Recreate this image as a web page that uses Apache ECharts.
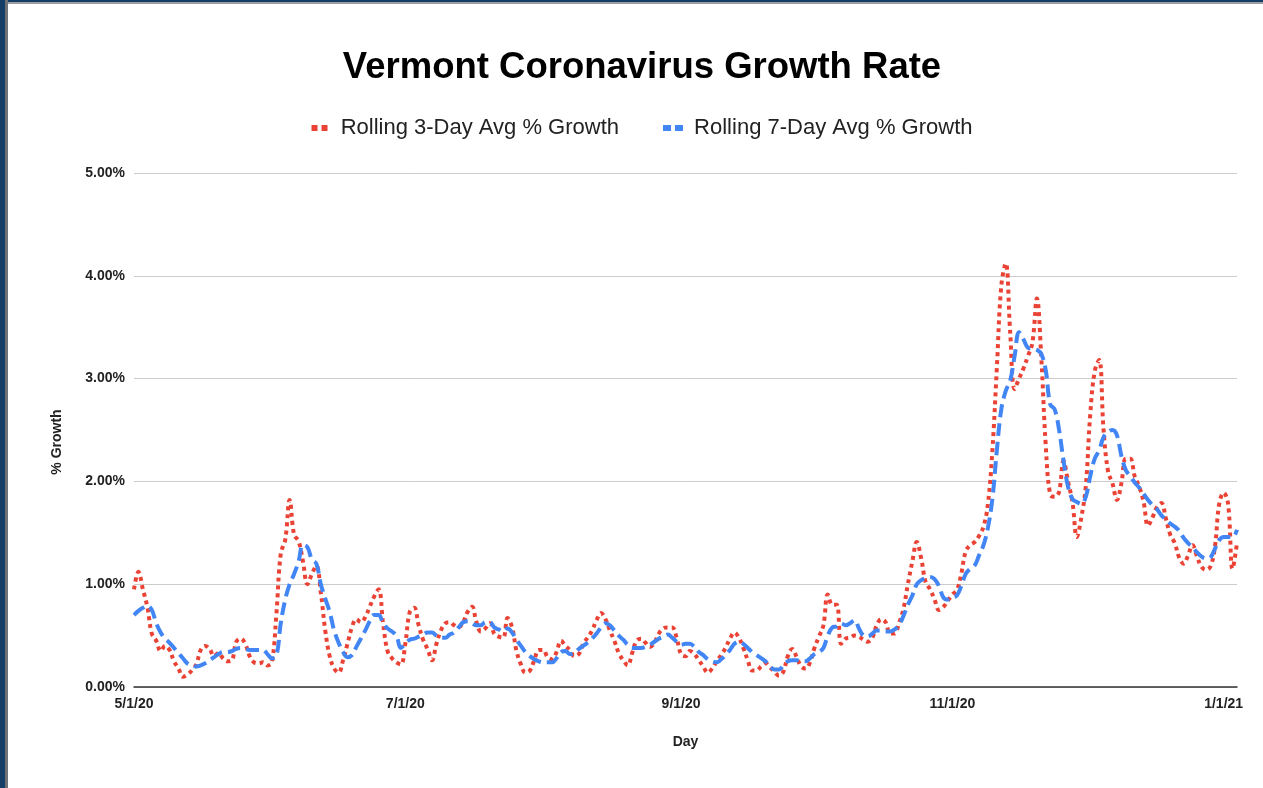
<!DOCTYPE html>
<html>
<head>
<meta charset="utf-8">
<script src="https://cdn.jsdelivr.net/npm/echarts@6/dist/echarts.min.js"></script>
<style>
  html, body { margin: 0; padding: 0; width: 1263px; height: 788px; overflow: hidden; background: #fff; }
  #chart { position: absolute; left: 0; top: 0; width: 1284px; height: 788px; }
  #bl { position: absolute; left: 0; top: 0; width: 5px; height: 788px; background: #143e66; }
  #bl2 { position: absolute; left: 5px; top: 0; width: 3px; height: 788px; background: #6f7378; }
  #bt { position: absolute; left: 0; top: 0; width: 1263px; height: 2px; background: #143e66; }
  #bt2 { position: absolute; left: 5px; top: 2px; width: 1258px; height: 2px; background: #9a9da1; }
</style>
</head>
<body>
<div id="chart"></div>
<div id="bt"></div><div id="bt2"></div><div id="bl"></div><div id="bl2"></div>
<script>
// Data: daily values from 5/1/20 to 1/4/21 (percent)
const startDate = [2020, 4, 1]; // year, monthIndex, day
const tickLabels = ['5/1/20', '7/1/20', '9/1/20', '11/1/20', '1/1/21'];
const seriesNames = ['Rolling 3-Day Avg % Growth', 'Rolling 7-Day Avg % Growth'];

const rolling3 = [
 0.95,1.12,0.95,0.78,0.52,0.45,0.35,0.40,0.36,0.25,
 0.18,0.10,0.12,0.16,0.22,0.36,0.40,0.37,0.30,0.33,
 0.28,0.25,0.26,0.44,0.47,0.42,0.30,0.24,0.23,0.24,
 0.21,0.24,0.70,1.30,1.43,1.82,1.48,1.42,1.22,1.00,
 1.10,1.18,0.92,0.55,0.30,0.18,0.14,0.26,0.42,0.58,
 0.66,0.63,0.68,0.78,0.88,0.95,0.62,0.35,0.28,0.24,
 0.22,0.42,0.73,0.77,0.60,0.46,0.37,0.26,0.42,0.55,
 0.62,0.63,0.60,0.58,0.63,0.73,0.78,0.63,0.54,0.57,
 0.62,0.52,0.49,0.48,0.67,0.58,0.35,0.22,0.14,0.16,
 0.26,0.36,0.36,0.29,0.27,0.34,0.45,0.40,0.36,0.30,
 0.32,0.42,0.48,0.55,0.65,0.72,0.66,0.55,0.45,0.33,
 0.26,0.21,0.33,0.45,0.47,0.43,0.39,0.43,0.52,0.57,
 0.58,0.58,0.48,0.32,0.30,0.35,0.32,0.26,0.20,0.14,
 0.18,0.25,0.31,0.38,0.47,0.53,0.48,0.38,0.26,0.16,
 0.16,0.20,0.23,0.19,0.15,0.11,0.15,0.30,0.37,0.29,
 0.20,0.18,0.24,0.38,0.49,0.60,0.90,0.80,0.80,0.42,
 0.47,0.48,0.50,0.49,0.46,0.44,0.48,0.60,0.66,0.63,
 0.52,0.52,0.62,0.76,1.00,1.22,1.41,1.25,1.02,0.95,
 0.85,0.75,0.78,0.84,0.90,0.94,1.10,1.32,1.38,1.41,
 1.47,1.56,1.78,2.30,3.10,3.90,4.12,3.45,2.90,3.00,
 3.10,3.22,3.35,3.78,3.20,2.35,1.87,1.85,1.90,2.20,
 2.00,1.80,1.46,1.65,1.95,2.65,3.07,3.18,2.50,2.10,
 1.98,1.82,1.98,2.22,2.22,2.05,1.95,1.80,1.57,1.65,
 1.75,1.79,1.64,1.48,1.40,1.26,1.20,1.28,1.38,1.27,
 1.17,1.14,1.17,1.35,1.78,1.89,1.78,1.15,1.40
];

const rolling7 = [
 0.70,0.74,0.77,0.79,0.75,0.62,0.53,0.47,0.43,0.38,
 0.33,0.28,0.23,0.21,0.20,0.21,0.23,0.26,0.29,0.32,
 0.34,0.34,0.35,0.37,0.38,0.37,0.36,0.36,0.36,0.36,
 0.32,0.28,0.30,0.62,0.85,1.00,1.10,1.22,1.38,1.36,
 1.24,1.20,1.00,0.86,0.73,0.55,0.43,0.34,0.29,0.31,
 0.39,0.47,0.55,0.64,0.70,0.70,0.62,0.57,0.54,0.50,
 0.38,0.42,0.46,0.47,0.49,0.51,0.53,0.53,0.50,0.48,
 0.48,0.51,0.53,0.58,0.63,0.64,0.62,0.60,0.60,0.63,
 0.63,0.58,0.56,0.54,0.57,0.53,0.46,0.40,0.34,0.30,
 0.27,0.25,0.24,0.24,0.24,0.28,0.34,0.35,0.32,0.33,
 0.37,0.40,0.43,0.47,0.52,0.58,0.62,0.60,0.55,0.50,
 0.46,0.41,0.38,0.38,0.38,0.39,0.41,0.44,0.47,0.49,
 0.51,0.48,0.44,0.41,0.42,0.42,0.39,0.34,0.31,0.27,
 0.25,0.24,0.27,0.31,0.36,0.42,0.44,0.42,0.38,0.34,
 0.31,0.28,0.25,0.20,0.17,0.17,0.21,0.25,0.26,0.26,
 0.25,0.25,0.28,0.32,0.34,0.38,0.50,0.58,0.59,0.62,
 0.60,0.62,0.65,0.57,0.50,0.49,0.52,0.55,0.55,0.54,
 0.54,0.56,0.60,0.69,0.80,0.89,1.00,1.04,1.06,1.07,
 1.05,0.98,0.87,0.85,0.87,0.89,0.98,1.10,1.15,1.18,
 1.28,1.38,1.55,1.83,2.30,2.70,2.88,2.98,3.22,3.45,
 3.38,3.30,3.29,3.28,3.24,3.08,2.75,2.70,2.50,2.20,
 1.95,1.83,1.80,1.78,1.85,2.05,2.22,2.30,2.43,2.48,
 2.50,2.45,2.25,2.11,2.05,1.99,1.94,1.88,1.82,1.77,
 1.73,1.67,1.63,1.59,1.56,1.52,1.45,1.40,1.36,1.31,
 1.27,1.25,1.26,1.34,1.43,1.46,1.46,1.46,1.53
];

// category labels (M/D/YY) for each day
const days = [];
for (let i = 0; i < rolling3.length; i++) {
  const d = new Date(startDate[0], startDate[1], startDate[2] + i);
  days.push((d.getMonth() + 1) + '/' + d.getDate() + '/' + String(d.getFullYear()).slice(2));
}

const chart = echarts.init(document.getElementById('chart'), null, { renderer: 'canvas' });
const font = 'Arial, "Liberation Sans", Helvetica, sans-serif';
chart.setOption({
  animation: false,
  backgroundColor: '#ffffff',
  title: {
    text: 'Vermont Coronavirus Growth Rate',
    left: 'center',
    top: 44,
    textStyle: { fontFamily: font, fontSize: 36.5, fontWeight: 'bold', color: '#000' }
  },
  legend: {
    top: 112,
    left: 'center',
    itemGap: 44,
    itemWidth: 20,
    itemHeight: 6,
    formatter: name => ' ' + name,
    textStyle: { fontFamily: font, fontSize: 22, color: '#222' },
    data: [
      { name: seriesNames[0], icon: 'path://M0,0h6v6h-6zM10,0h6v6h-6z' },
      { name: seriesNames[1], icon: 'path://M0,0h8v6h-8zM12,0h8v6h-8z' }
    ]
  },
  grid: { left: 134, right: 47, top: 173, bottom: 101, containLabel: false },
  xAxis: {
    type: 'category',
    data: days,
    boundaryGap: false,
    name: 'Day',
    nameLocation: 'middle',
    nameGap: 48,
    nameTextStyle: { fontFamily: font, fontSize: 14, fontWeight: 'bold', color: '#222' },
    axisLine: { lineStyle: { color: '#333', width: 1.5 } },
    axisTick: { show: false },
    axisLabel: {
      interval: (idx, val) => tickLabels.includes(val),
      margin: 10,
      fontFamily: font, fontSize: 14, fontWeight: 'bold', color: '#222'
    },
    splitLine: { show: false }
  },
  yAxis: {
    type: 'value',
    min: 0, max: 5, interval: 1,
    name: '% Growth',
    nameLocation: 'middle',
    nameGap: 70,
    nameTextStyle: { fontFamily: font, fontSize: 14, fontWeight: 'bold', color: '#222', padding: [0, 24, 0, 0] },
    axisLine: { show: false },
    axisTick: { show: false },
    axisLabel: {
      formatter: v => v.toFixed(2) + '%',
      margin: 9,
      fontFamily: font, fontSize: 14, fontWeight: 'bold', color: '#222'
    },
    splitLine: { lineStyle: { color: '#cccccc', width: 1 } }
  },
  series: [
    {
      name: seriesNames[0],
      type: 'line',
      data: rolling3,
      smooth: 0.4,
      symbol: 'none',
      color: '#ea4335',
      lineStyle: { color: '#ea4335', width: 4, type: [4, 4] }
    },
    {
      name: seriesNames[1],
      type: 'line',
      data: rolling7,
      smooth: 0.4,
      symbol: 'none',
      color: '#4285f4',
      lineStyle: { color: '#4285f4', width: 4, type: [13, 6] }
    }
  ]
});
</script>
</body>
</html>
